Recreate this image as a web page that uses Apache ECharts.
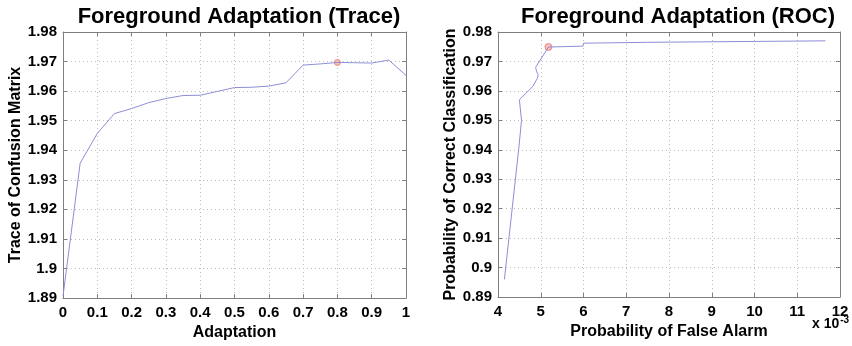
<!DOCTYPE html>
<html>
<head>
<meta charset="utf-8">
<script src="https://cdn.jsdelivr.net/npm/echarts@6/dist/echarts.min.js"></script>
<style>
  html, body { margin: 0; padding: 0; background: #fff; }
  #chart { width: 852px; height: 346px; }
</style>
</head>
<body>
<div id="chart"></div>
<script>
// Trace of the confusion matrix versus the foreground adaptation rate
const adaptation = [0, 0.05, 0.1, 0.15, 0.2, 0.25, 0.3, 0.35, 0.4, 0.45, 0.5,
                    0.55, 0.6, 0.65, 0.7, 0.75, 0.8, 0.85, 0.9, 0.95, 1];
const traceOfConfusion = [1.8906, 1.9356, 1.9457, 1.9524, 1.9541, 1.9561, 1.9575,
                          1.9585, 1.9586, 1.9599, 1.9612, 1.9613, 1.9617, 1.9628,
                          1.9688, 1.9692, 1.9697, 1.9696, 1.9695, 1.9705, 1.9653];
const chosenAdaptation = 0.8;

// ROC curve: false alarm probability (in units of 1e-3) vs correct classification
const falseAlarmE3 = [4.15, 4.49, 4.55, 4.50, 4.82, 4.87, 4.92, 4.94, 4.90, 4.88,
                      5.18, 5.99, 6.00, 7.50, 10.00, 11.66];
const correctClass = [0.8960, 0.9410, 0.9500, 0.9570, 0.9616, 0.9630, 0.9642, 0.9655,
                      0.9667, 0.9680, 0.9749, 0.9752, 0.9762, 0.9765, 0.9768, 0.9770];
const chosenRocIndex = 10;

// Tick settings
const traceTicks = { min: 1.89, max: 1.98, interval: 0.01 };
const adaptTicks = { min: 0, max: 1, interval: 0.1 };
const pccTicks = { min: 0.89, max: 0.98, interval: 0.01 };
const pfaTicks = { min: 4, max: 12, interval: 1 };

const FONT = '"Liberation Sans", Arial, Helvetica, sans-serif';
const FRAME = '#7f7f7f';
const LINE = '#8e8ed6';

const fmt = v => String(+(+v).toFixed(2));

function mainAxis(ticks, gridIndex, position, name, nameGap, labelMargin) {
  return {
    type: 'value', gridIndex, position,
    min: ticks.min, max: ticks.max, interval: ticks.interval,
    name, nameLocation: 'middle', nameGap,
    nameTextStyle: { fontFamily: FONT, fontWeight: 'bold', fontSize: 16, color: '#000' },
    axisLine: { show: true, onZero: false, lineStyle: { color: FRAME, width: 1 } },
    axisTick: { show: true, inside: true, length: 4, lineStyle: { color: FRAME } },
    axisLabel: { fontFamily: FONT, fontWeight: 'bold', fontSize: 15, color: '#000',
                 margin: labelMargin, formatter: fmt, showMinLabel: true, showMaxLabel: true },
    splitLine: { show: true, lineStyle: { color: '#bdbdbd', type: [1, 3], width: 1 } }
  };
}

function frameAxis(ticks, gridIndex, position) {
  return {
    type: 'value', gridIndex, position,
    min: ticks.min, max: ticks.max, interval: ticks.interval,
    axisLine: { show: true, onZero: false, lineStyle: { color: FRAME, width: 1 } },
    axisTick: { show: true, inside: true, length: 4, lineStyle: { color: FRAME } },
    axisLabel: { show: false },
    splitLine: { show: false }
  };
}

const chart = echarts.init(document.getElementById('chart'), null, { renderer: 'canvas' });

const chosenIdx = adaptation.indexOf(chosenAdaptation);

chart.setOption({
  animation: false,
  backgroundColor: '#fff',
  title: [
    { text: 'Foreground Adaptation (Trace)', left: 234, top: 1, textAlign: 'center',
      textStyle: { fontFamily: FONT, fontWeight: 'bold', fontSize: 22, color: '#000' } },
    { text: 'Foreground Adaptation (ROC)', left: 673, top: 1, textAlign: 'center',
      textStyle: { fontFamily: FONT, fontWeight: 'bold', fontSize: 22, color: '#000' } }
  ],
  grid: [
    { left: 63, top: 32, width: 343, height: 268 },
    { left: 498, top: 32, width: 342, height: 265 }
  ],
  xAxis: [
    mainAxis(adaptTicks, 0, 'bottom', 'Adaptation', 27, 7),
    frameAxis(adaptTicks, 0, 'top'),
    mainAxis(pfaTicks, 1, 'bottom', 'Probability of False Alarm', 25, 7),
    frameAxis(pfaTicks, 1, 'top')
  ],
  yAxis: [
    mainAxis(traceTicks, 0, 'left', 'Trace of Confusion Matrix', 38, 6),
    frameAxis(traceTicks, 0, 'right'),
    mainAxis(pccTicks, 1, 'left', 'Probability of Correct Classification', 38, 6),
    frameAxis(pccTicks, 1, 'right')
  ],
  graphic: [
    { type: 'text', left: 812, top: 315,
      style: { text: 'x 10{sup|-3}', fontFamily: FONT, fontWeight: 'bold', fontSize: 14, fill: '#000',
               rich: { sup: { fontFamily: FONT, fontWeight: 'bold', fontSize: 10, fill: '#000',
                              verticalAlign: 'top', padding: [0, 0, 8, 1] } } } }
  ],
  series: [
    { type: 'line', xAxisIndex: 0, yAxisIndex: 0, showSymbol: false, silent: true,
      lineStyle: { color: LINE, width: 1 },
      data: adaptation.map((a, i) => [a, traceOfConfusion[i]]) },
    { type: 'scatter', xAxisIndex: 0, yAxisIndex: 0, symbolSize: 6, silent: true,
      itemStyle: { color: '#f6b0a8', borderColor: '#e8786e', borderWidth: 1 },
      data: [[adaptation[chosenIdx], traceOfConfusion[chosenIdx]]] },
    { type: 'line', xAxisIndex: 2, yAxisIndex: 2, showSymbol: false, silent: true,
      lineStyle: { color: LINE, width: 1 },
      data: falseAlarmE3.map((p, i) => [p, correctClass[i]]) },
    { type: 'scatter', xAxisIndex: 2, yAxisIndex: 2, symbolSize: 7, silent: true,
      itemStyle: { color: '#f6b0a8', borderColor: '#e8786e', borderWidth: 1 },
      data: [[falseAlarmE3[chosenRocIndex], correctClass[chosenRocIndex]]] }
  ]
});
</script>
</body>
</html>
